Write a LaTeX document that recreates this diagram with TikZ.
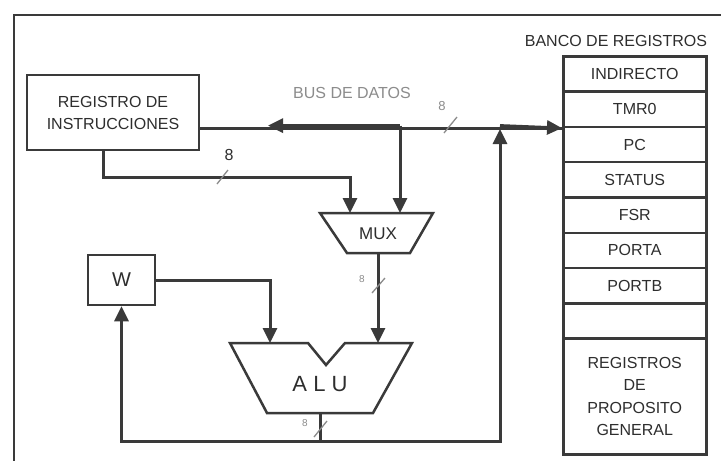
\documentclass[tikz,border=0pt]{standalone}
\usepackage{fontspec}
\setmainfont{Liberation Sans}
\usetikzlibrary{arrows.meta}
\definecolor{ink}{HTML}{3A3A3A}
\definecolor{txt}{HTML}{2E2E2E}
\definecolor{faint}{HTML}{8C8C8C}
\begin{document}
\begin{tikzpicture}[x=1pt,y=-1pt,
  wire/.style={draw=ink,line width=3pt},
  arr/.style={-{Triangle[length=15pt,width=14pt]}},
  box/.style={draw=ink,line width=2.5pt,inner sep=0pt},
  lab/.style={text=txt,font=\fontsize{16}{22}\selectfont},
  row/.style={box,lab,minimum width=143pt,minimum height=35.3pt,anchor=north west},
  small/.style={text=faint,inner sep=0pt},
  tick/.style={draw=faint,line width=1.3pt}]
\useasboundingbox (0,0) rectangle (721,461);
\fill[white] (0,0) rectangle (721,461);
\draw[ink,line width=1.6pt] (14,461) -- (14,15) -- (721,15);

% instruction register
\node[box,lab,minimum width=172pt,minimum height=75pt,align=center] (ir) at (113,112.5) {REGISTRO DE\\INSTRUCCIONES};
% W register
\node[box,minimum width=67pt,minimum height=50pt,font=\fontsize{20}{24}\selectfont,text=txt] (w) at (121.5,280) {W};

% register bank
\node[lab,anchor=base] (banktitle) at (616,46) {BANCO DE REGISTROS};
\node[row] (r1) at (562,55) {INDIRECTO};
\node[row] (r2) at (562,90.3) {TMR0};
\node[row] (r3) at (562,125.6) {PC};
\node[row] (r4) at (562,160.9) {STATUS};
\node[row] (r5) at (562,196.2) {FSR};
\node[row] (r6) at (562,231.5) {PORTA};
\node[row] (r7) at (562,266.8) {PORTB};
\node[row] (r8) at (562,302.1) {};
\node[row,minimum height=115.6pt,align=center,font=\fontsize{16}{22.5}\selectfont] (r9) at (562,337.4) {REGISTROS\\DE\\PROPOSITO\\GENERAL};

% MUX
\coordinate (m1) at (320,213);
\coordinate (m2) at (433,213);
\coordinate (m3) at (410,253);
\coordinate (m4) at (347,253);
\draw[ink,line width=2.5pt,line join=miter] (m1) -- (m2) -- (m3) -- (m4) -- cycle;
\node[text=txt,font=\fontsize{17}{20}\selectfont] (mux) at (378,234) {MUX};

% ALU
\coordinate (a1) at (230,343);
\coordinate (a2) at (308,343);
\coordinate (a3) at (326,365);
\coordinate (a4) at (345,343);
\coordinate (a5) at (412,343);
\coordinate (a6) at (373,413);
\coordinate (a7) at (267,413);
\draw[ink,line width=2.5pt,line join=miter] (a1) -- (a2) -- (a3) -- (a4) -- (a5) -- (a6) -- (a7) -- cycle;
\node[text=txt,font=\fontsize{22}{26}\selectfont] (alu) at (320,384) {A L U};

% connection points
\coordinate (bw) at (r2.south west);
\coordinate (bj) at (400,125.6);
\coordinate (bu) at (500,125.6);
\coordinate (lt) at (268,125.6);
\coordinate (irb) at (103,150);
\coordinate (ic) at (350,177);
\coordinate (mo) at (378,253);
\coordinate (wi) at (270,343);
\coordinate (ao) at (320,413);
\coordinate (ob) at (320,441);
\coordinate (uptip) at (500,129);

% data bus
\draw[wire] (ir.east |- bw) -- (bw);
\draw[wire,arr] (bj) -- (lt);
\draw[wire,arr] (bu) -- (bw);
\draw[wire,arr] (bj) -- (bj |- m1);
% IR to MUX
\draw[wire,arr] (irb) |- (ic) -- (ic |- m1);
% MUX to ALU
\draw[wire,arr] (mo) -- (mo |- a5);
% W to ALU
\draw[wire,arr] (w.east) -| (wi);
% ALU output
\draw[wire,arr] (ao) -- (ob) -| (w.south);
\draw[wire,arr] (ob) -| (uptip);

% width ticks
\draw[tick] (217,184) -- (228,170);
\draw[tick] (444,133) -- (457,117);
\draw[tick] (372,293) -- (385,278);
\draw[tick] (314,437) -- (327,421);

% labels
\node[small,text=txt,font=\fontsize{16}{18}\selectfont] (n1) at (229,155) {8};
\node[small,font=\fontsize{13}{15}\selectfont] (n2) at (442,106) {8};
\node[small,font=\fontsize{10}{12}\selectfont] (n3) at (362,279) {8};
\node[small,font=\fontsize{10}{12}\selectfont] (n4) at (305,423) {8};
\node[text=faint,font=\fontsize{16}{18}\selectfont] (bus) at (352,93) {BUS DE DATOS};
\end{tikzpicture}
\end{document}
